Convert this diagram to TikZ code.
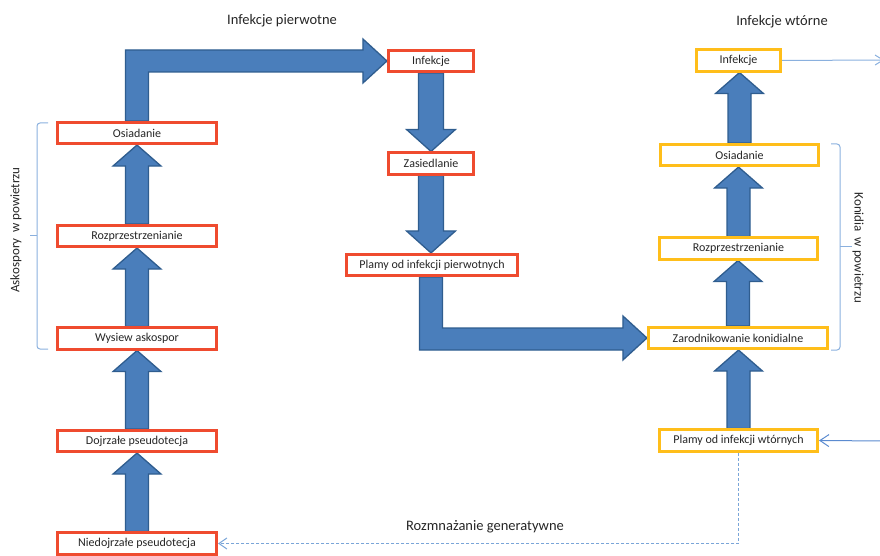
\documentclass[tikz,border=0pt]{standalone}
\usepackage{fontspec}
\setmainfont{Carlito}
\usetikzlibrary{arrows.meta,calc,backgrounds}
\definecolor{arrfill}{HTML}{4A7EBB}
\definecolor{arrdraw}{HTML}{2F5D8F}
\definecolor{redb}{HTML}{EF4B2F}
\definecolor{yelb}{HTML}{FFBE1A}
\definecolor{thinb}{HTML}{8AB0DE}
\definecolor{thind}{HTML}{5B8BD0}
\definecolor{dashb}{HTML}{7AA5D8}
\definecolor{txt}{HTML}{262626}
\tikzset{
 box/.style={draw, line width=2.6bp, fill=white, minimum height=21.5bp, inner sep=0pt, font=\fontsize{12bp}{13bp}\selectfont, text=txt},
 redbox/.style={box, draw=redb},
 yelbox/.style={box, draw=yelb},
 blockarr/.style={fill=arrfill, draw=arrdraw, line width=1.3bp, line join=miter},
 thinline/.style={draw=thinb, line width=1bp},
 titletext/.style={font=\fontsize{14.5bp}{16bp}\selectfont, text=txt, inner sep=0pt},
 sidetext/.style={font=\fontsize{13bp}{15bp}\selectfont, text=txt, inner sep=0pt},
}
\newcommand{\blkup}[2]{%
 \path[blockarr] let \p1=(#1.north), \p2=(#2.south) in
  (\x1-11.5bp,\y1) -- (\x1-11.5bp,\y2-21bp) -- (\x1-24bp,\y2-21bp) -- (\x1,\y2)
  -- (\x1+24bp,\y2-21bp) -- (\x1+11.5bp,\y2-21bp) -- (\x1+11.5bp,\y1) -- cycle;}
\newcommand{\blkdown}[2]{%
 \path[blockarr] let \p1=(#1.south), \p2=(#2.north) in
  (\x1-12.5bp,\y1) -- (\x1-12.5bp,\y2+22bp) -- (\x1-24.5bp,\y2+22bp) -- (\x1,\y2)
  -- (\x1+24.5bp,\y2+22bp) -- (\x1+12.5bp,\y2+22bp) -- (\x1+12.5bp,\y1) -- cycle;}
\begin{document}
\begin{tikzpicture}[x=1bp,y=-1bp]
\useasboundingbox (0,0) rectangle (880,556);
% left column
\node[redbox, minimum width=159.5bp] (LOs) at (137,133) {Osiadanie};
\node[redbox, minimum width=159.5bp] (LRo) at (137,236) {Rozprzestrzenianie};
\node[redbox, minimum width=159.5bp] (LWy) at (137,338.5) {Wysiew askospor};
\node[redbox, minimum width=159.5bp] (LDo) at (137,441) {Dojrzałe pseudotecja};
\node[redbox, minimum width=159.5bp] (LNi) at (137,543.5) {Niedojrzałe pseudotecja};
% middle column
\node[redbox, minimum width=85.5bp] (MIn) at (431,61) {Infekcje};
\node[redbox, minimum width=85.5bp] (MZa) at (431,163.5) {Zasiedlanie};
\node[redbox, minimum width=171.5bp] (MPl) at (432,265) {Plamy od infekcji pierwotnych};
% right column
\node[yelbox, minimum width=84.5bp] (RIn) at (738.5,60.5) {Infekcje};
\node[yelbox, minimum width=158.5bp] (ROs) at (739.5,155) {Osiadanie};
\node[yelbox, minimum width=158.5bp] (RRo) at (738.5,248.5) {Rozprzestrzenianie};
\node[yelbox, minimum width=179.5bp] (RZa) at (738,338) {Zarodnikowanie konidialne};
\node[yelbox, minimum width=158.5bp] (RPl) at (738.5,440.5) {Plamy od infekcji wtórnych};
% titles
\node[titletext] (T1) at (282,21) {Infekcje pierwotne};
\node[titletext] (T2) at (782,22) {Infekcje wtórne};
\node[titletext] (T3) at (485,527) {Rozmnażanie generatywne};
\node[sidetext, rotate=90] (S1) at (16,230) {Askospory\ \ w powietrzu};
\node[sidetext, rotate=-90] (S2) at (858,248) {Konidia\ \ w powietrzu};
% block arrows
\begin{scope}[on background layer]
\blkup{LNi}{LDo}
\blkup{LDo}{LWy}
\blkup{LWy}{LRo}
\blkup{LRo}{LOs}
\blkdown{MIn}{MZa}
\blkdown{MZa}{MPl}
\blkup{RPl}{RZa}
\blkup{RZa}{RRo}
\blkup{RRo}{ROs}
\blkup{ROs}{RIn}
\path[blockarr] let \p1=(LOs.north), \p2=(MIn.west) in
  (\x1-11.5bp,\y1) -- (\x1-11.5bp,\y2+11bp) -- (\x2-24bp,\y2+11bp) -- (\x2-24bp,\y2+22bp)
  -- (\x2,\y2) -- (\x2-24bp,\y2-22bp) -- (\x2-24bp,\y2-11bp) -- (\x1+11.5bp,\y2-11bp)
  -- (\x1+11.5bp,\y1) -- cycle;
\path[blockarr] let \p1=(MPl.south), \p2=(RZa.west) in
  (\x1-12.5bp,\y1) -- (\x1-12.5bp,\y2-12bp) -- (\x2-24bp,\y2-12bp) -- (\x2-24bp,\y2-22bp)
  -- (\x2,\y2) -- (\x2-24bp,\y2+22bp) -- (\x2-24bp,\y2+10bp) -- (\x1+10.5bp,\y2+10bp)
  -- (\x1+10.5bp,\y1) -- cycle;
\end{scope}
% brackets
\draw[thinline, rounded corners=3bp] (48,123) -- (37,123) -- (37,349) -- (48,349);
\draw[thinline] (37,236) -- (30,236);
\draw[thinline, rounded corners=3bp] (831,144) -- (840,144) -- (840,350) -- (831,350);
\draw[thinline] (840,247) -- (852,247);
% thin connectors
\coordinate (edgeT) at (884,60);
\coordinate (edgeB) at (885,441);
\draw[thinline, -{Straight Barb[length=8bp,width=10bp]}] (RIn.east) -- (edgeT);
\draw[thinline, draw=thind, -{Straight Barb[length=9bp,width=12bp]}] (edgeB) -- (RPl.east);
\draw[thinline, draw=dashb, dash pattern=on 3bp off 2bp, -{Straight Barb[length=8bp,width=11bp]}] (RPl.south) |- (LNi.east);
\end{tikzpicture}
\end{document}
